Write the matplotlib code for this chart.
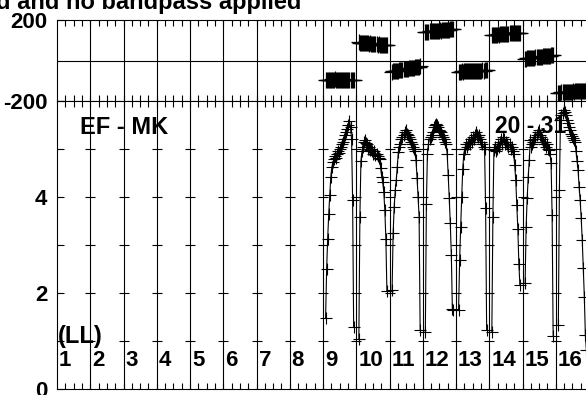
import numpy as np
import matplotlib.pyplot as plt

plt.rcParams['font.family'] = ['Liberation Sans', 'DejaVu Sans']
plt.rcParams['font.weight'] = 'bold'

# channel layout: 16 IFs of 32 channels, channels 3..30 carry data
n_chan = 32
n_if = 16
chans = list(range(3, 31))
ifs_with_data = [9, 10, 11, 12, 13, 14, 15, 16]
if_labels = [str(i) for i in range(1, n_if + 1)]

# amplitude per IF (channels 3..30)
amp_if9 = [1.47, 2.49, 3.13, 3.64, 4.03, 4.42, 4.62, 4.72, 4.78, 4.85, 4.82, 4.90, 4.95, 4.92,
           5.00, 5.05, 5.10, 5.15, 5.20, 5.30, 5.35, 5.42, 5.50, 5.58, 5.45, 5.20, 3.93, 1.29]
amp_if10 = [1.03, 3.58, 4.75, 4.95, 5.05, 5.15, 5.18, 5.12, 5.10, 5.00, 5.05, 4.98, 5.00, 4.95,
            4.90, 4.95, 4.88, 4.90, 4.85, 4.82, 4.78, 4.60, 4.42, 4.31, 4.10, 3.72, 3.13, 2.04]
amp_if11 = [2.06, 3.25, 3.79, 4.14, 4.35, 4.63, 4.94, 5.05, 5.10, 5.20, 5.25, 5.30, 5.35, 5.39,
            5.32, 5.30, 5.25, 5.20, 5.15, 5.10, 5.05, 5.00, 4.95, 4.76, 4.40, 4.00, 3.58, 1.22]
amp_if12 = [1.19, 3.85, 4.90, 5.11, 5.20, 5.25, 5.30, 5.35, 5.45, 5.50, 5.53, 5.50, 5.45, 5.40,
            5.38, 5.35, 5.30, 5.25, 5.20, 5.15, 5.11, 4.90, 4.45, 3.97, 3.45, 2.79, 1.67, 1.65]
amp_if13 = [1.65, 2.68, 3.38, 4.00, 4.59, 4.90, 5.00, 5.11, 5.05, 5.10, 5.15, 5.10, 5.20, 5.15,
            5.25, 5.20, 5.30, 5.35, 5.30, 5.25, 5.30, 5.20, 5.15, 5.10, 5.05, 5.00, 3.76, 1.22]
amp_if14 = [1.19, 3.58, 4.97, 5.05, 4.95, 5.00, 5.10, 5.05, 5.15, 5.20, 5.10, 5.25, 5.20, 5.10,
            5.15, 5.10, 5.05, 5.10, 5.00, 5.05, 4.95, 4.90, 4.66, 4.35, 3.83, 3.34, 2.60, 2.16]
amp_if15 = [2.20, 3.38, 3.97, 4.42, 4.76, 5.18, 5.05, 5.10, 5.15, 5.20, 5.25, 5.30, 5.35, 5.39,
            5.30, 5.25, 5.20, 5.15, 5.10, 5.15, 5.05, 5.10, 5.00, 4.97, 4.90, 4.70, 3.62, 1.10]
amp_if16 = [1.33, 4.14, 5.60, 5.70, 5.75, 5.81, 5.78, 5.70, 5.60, 5.55, 5.45, 5.40, 5.32, 5.28,
            5.22, 5.18, 5.15, 4.95, 4.75, 4.56, 4.20, 3.93, 3.55, 3.10, 2.51, 1.92, 1.12, 0.80]

# phase per IF in degrees (channels 3..30)
ph_if9 = [-95, -97, -96, -94, -98, -96, -95, -97, -96, -93, -97, -95, -96, -98,
          -94, -96, -97, -95, -96, -94, -97, -96, -95, -98, -96, -94, -97, -95]
ph_if10 = [89, 88, 87, 88, 86, 86, 85, 86, 84, 84, 83, 84, 82, 82,
           81, 82, 80, 80, 79, 80, 78, 78, 77, 78, 76, 76, 75, 76]
ph_if11 = [-56, -54, -53, -53, -51, -50, -50, -48, -47, -47, -45, -44, -44, -42,
           -41, -41, -39, -38, -38, -36, -35, -35, -33, -32, -32, -31, -30, -29]
ph_if12 = [141, 142, 143, 142, 144, 144, 145, 144, 146, 146, 147, 146, 148, 148,
           149, 148, 150, 150, 151, 150, 152, 152, 153, 152, 154, 154, 155, 154]
ph_if13 = [-56, -55, -55, -54, -55, -54, -54, -53, -54, -53, -53, -52, -53, -52,
           -52, -51, -52, -51, -51, -50, -51, -50, -50, -49, -50, -49, -49, -48]
ph_if14 = [125, 126, 127, 126, 128, 128, 129, 128, 130, 130, 131, 130, 132, 132,
           132, 133, 133, 134, 134, 135, 135, 135, 136, 136, 137, 137, 138, 137]
ph_if15 = [8, 9, 10, 10, 11, 12, 12, 13, 14, 14, 15, 16, 16, 17,
           18, 18, 19, 20, 20, 21, 22, 22, 23, 24, 24, 25, 26, 25]
ph_if16 = [-160, -159, -159, -158, -158, -157, -157, -156, -156, -155, -156, -155, -154, -154,
           -153, -154, -153, -152, -152, -151, -152, -151, -150, -150, -149, -150, -149, -148]

amps = [amp_if9, amp_if10, amp_if11, amp_if12, amp_if13, amp_if14, amp_if15, amp_if16]
phases = [ph_if9, ph_if10, ph_if11, ph_if12, ph_if13, ph_if14, ph_if15, ph_if16]

W, H = 586, 395
fig = plt.figure(figsize=(W / 100, H / 100), dpi=100)

# panel frames in pixels (right edge falls just outside the picture)
x0, x1 = 57, 589
ph_top, mid, amp_bot = 20, 101, 388.7
ax_ph = fig.add_axes([x0 / W, 1 - mid / H, (x1 - x0) / W, (mid - ph_top) / H])
ax_amp = fig.add_axes([x0 / W, 1 - amp_bot / H, (x1 - x0) / W, (amp_bot - mid) / H])

lw = 0.8
for k, amp, ph in zip(ifs_with_data, amps, phases):
    xs = [(k - 1) * n_chan + c - 0.5 for c in chans]
    ax_amp.plot(xs, amp, color='black', lw=lw, marker='+', ms=8.5, mew=lw)
    ax_ph.plot(xs, ph, color='black', lw=1.2, marker='+', ms=11, mew=0.9)

bounds = [b * n_chan for b in range(1, n_if)]
for ax in (ax_ph, ax_amp):
    for b in bounds:
        ax.axvline(b, color='black', lw=lw)
    ax.set_xlim(0, n_if * n_chan)
    for s in ax.spines.values():
        s.set_linewidth(lw)
    minor = [b * n_chan + o for b in range(n_if) for o in (8, 16, 24)]
    ax.set_xticks(bounds)
    ax.set_xticks(minor, minor=True)
    ax.tick_params(axis='x', which='both', direction='in', top=True, bottom=True,
                   labelbottom=False, length=4, width=lw)

ax_ph.axhline(0, color='black', lw=lw)
ax_ph.set_ylim(-200, 200)
ax_ph.set_yticks([-200, 200])
ax_ph.set_yticklabels(['-200', '200'])

ax_amp.set_ylim(0, 6)
ax_amp.set_yticks([0, 1, 2, 3, 4, 5, 6])
ax_amp.set_yticklabels(['0', '', '2', '', '4', '', ''])
for b in bounds:
    ax_amp.plot([b] * 5, [1, 2, 3, 4, 5], ls='none', marker='_', ms=7.5,
                mew=lw, color='black')

for ax in (ax_ph, ax_amp):
    ax.tick_params(axis='y', direction='in', length=5, width=lw, pad=7,
                   labelsize=16)
    for t in ax.get_yticklabels():
        t.set_fontweight('bold')

# IF numbers inside the amplitude panel
for i, lab in enumerate(if_labels):
    fig.text((x0 + i * 33.25 + 2) / W, 1 - 366.5 / H, lab, fontsize=16,
             fontweight='bold', va='baseline', ha='left')
fig.text((x0 + 1) / W, 1 - 343 / H, '(LL)', fontsize=17, fontweight='bold',
         va='baseline', ha='left')
fig.text(80 / W, 1 - 134 / H, 'EF - MK', fontsize=17, fontweight='bold',
         va='baseline', ha='left')
fig.text(495 / W, 1 - 133 / H, '20 - 31', fontsize=16.5, fontweight='bold',
         va='baseline', ha='left')
fig.text(-4 / W, 1 - 8.5 / H, 'd and no bandpass applied', fontsize=17,
         fontweight='bold', va='baseline', ha='left')

fig.savefig('out.png', dpi=100)
